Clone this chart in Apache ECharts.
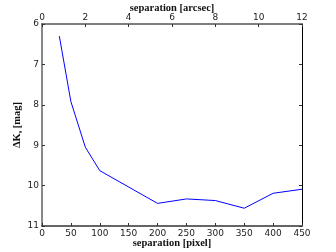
<!DOCTYPE html>
<html><head><meta charset="utf-8">
<script src="https://cdn.jsdelivr.net/npm/echarts@6/dist/echarts.min.js"></script>
<style>html,body{margin:0;padding:0;background:#fff}#c{width:336px;height:252px}</style>
</head><body><div id="c"></div>
<script>
const sepPixel = [30, 50, 75, 100, 200, 250, 300, 350, 400, 450];
const deltaK = [6.3, 7.92, 9.05, 9.63, 10.44, 10.33, 10.37, 10.56, 10.19, 10.09];
const pixelTicks = [0, 450, 50];
const arcsecTicks = [0, 12, 2];
const magTicks = [6, 11, 1];

const chart = echarts.init(document.getElementById('c'));
const labelFont = {fontFamily: 'DejaVu Sans', fontSize: 9, color: '#222'};
const nameFont = {fontFamily: 'Liberation Serif', fontWeight: 'bold', fontSize: 10.5, color: '#111'};
chart.setOption({
  animation: false,
  grid: {left: 42, right: 34, top: 24, bottom: 26, containLabel: false, outerBoundsMode: 'none'},
  xAxis: [
    {type: 'value', position: 'bottom', min: pixelTicks[0], max: pixelTicks[1], interval: pixelTicks[2],
     name: 'separation [pixel]', nameLocation: 'middle', nameGap: 12, nameMoveOverlap: false,
     nameTextStyle: nameFont,
     axisLine: {show: true, onZero: false, lineStyle: {color: '#333', width: 1.5}},
     axisTick: {show: true, inside: true, length: 3, lineStyle: {color: '#333'}},
     axisLabel: Object.assign({margin: 3}, labelFont), splitLine: {show: false}},
    {type: 'value', position: 'top', min: arcsecTicks[0], max: arcsecTicks[1], interval: arcsecTicks[2],
     name: 'separation [arcsec]', nameLocation: 'middle', nameGap: 10, nameMoveOverlap: false,
     nameTextStyle: nameFont,
     axisLine: {show: true, onZero: false, lineStyle: {color: '#555', width: 1.5}},
     axisTick: {show: true, inside: true, length: 3, lineStyle: {color: '#333'}},
     axisLabel: Object.assign({margin: 2}, labelFont), splitLine: {show: false}}
  ],
  yAxis: [
    {type: 'value', position: 'left', inverse: true, min: magTicks[0], max: magTicks[1], interval: magTicks[2],
     name: '{n|ΔK}{s|s}{n| [mag]}', nameLocation: 'middle', nameGap: 18, nameRotate: 90, nameMoveOverlap: false,
     nameTextStyle: {rich: {n: nameFont, s: {fontFamily: 'Liberation Serif', fontWeight: 'bold', fontSize: 6.5, color: '#111', verticalAlign: 'bottom', padding: [6, 0, 0, 0]}}},
     axisLine: {show: true, onZero: false, lineStyle: {color: '#888', width: 2}},
     axisTick: {show: true, inside: true, length: 3, lineStyle: {color: '#333'}},
     axisLabel: Object.assign({margin: 3}, labelFont), splitLine: {show: false}},
    {type: 'value', position: 'right', inverse: true, min: magTicks[0], max: magTicks[1], interval: magTicks[2],
     axisLine: {show: true, onZero: false, lineStyle: {color: '#000', width: 1}},
     axisTick: {show: true, inside: true, length: 3, lineStyle: {color: '#333'}},
     axisLabel: {show: false}, splitLine: {show: false}}
  ],
  series: [{
    type: 'line', xAxisIndex: 0, yAxisIndex: 0,
    data: sepPixel.map((x, i) => [x, deltaK[i]]),
    symbol: 'none', lineStyle: {color: '#0000ff', width: 1}
  }]
});
</script></body></html>
